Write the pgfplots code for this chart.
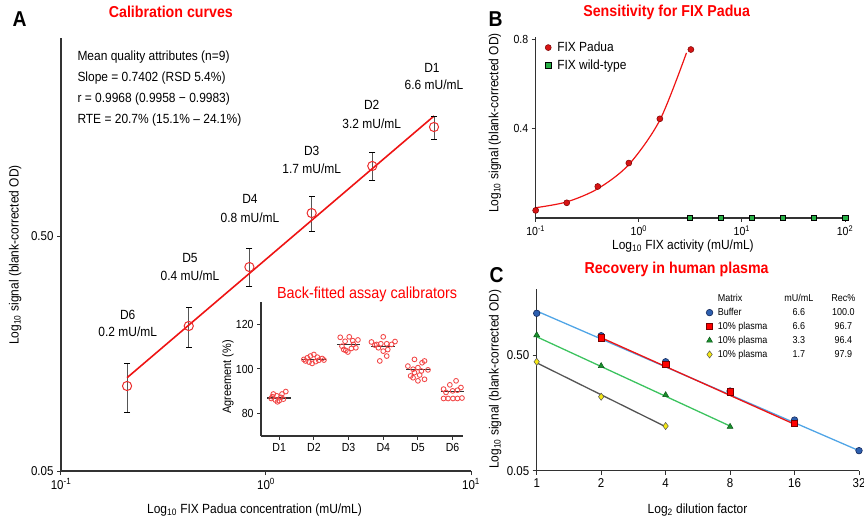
\documentclass[border=0pt]{standalone}
\usepackage{fontspec}
\setmainfont{Liberation Sans}[FakeStretch=0.9]
\usepackage{pgfplots}
\pgfplotsset{compat=1.18}
\definecolor{tred}{RGB}{255,0,0}
\definecolor{axgray}{RGB}{50,50,50}
\definecolor{fitred}{RGB}{238,20,20}
\definecolor{mkred}{RGB}{235,45,45}
\definecolor{insred}{RGB}{242,70,70}
\definecolor{padred}{RGB}{215,20,20}
\definecolor{padedge}{RGB}{120,0,0}
\definecolor{wtgreen}{RGB}{40,175,70}
\definecolor{lblue}{RGB}{80,165,230}
\definecolor{mblue}{RGB}{45,95,175}
\definecolor{dblue}{RGB}{20,40,90}
\definecolor{lgreen}{RGB}{60,195,95}
\definecolor{mgreen}{RGB}{25,145,45}
\definecolor{myellow}{RGB}{245,232,20}
\definecolor{lgray}{RGB}{85,85,85}
\pgfplotsset{
  base/.style={
    scale only axis,
    axis lines=left,
    axis line style={-, axgray, line width=1.3pt},
    tick style={axgray, line width=1pt},
    tick align=outside,
    major tick length=4pt,
    xminorticks=false, yminorticks=false,
    /pgf/number format/assume math mode=true,
    tick label style={font=\fontsize{12.8}{14}\selectfont},
    label style={font=\fontsize{13.3}{15}\selectfont},
    title style={font=\fontsize{15.8}{18}\selectfont\bfseries, text=tred, anchor=center},
    clip=false,
    legend image code/.code={\draw[##1, only marks] plot coordinates {(0.12cm,0cm)};},
  }
}
\begin{document}
\begin{tikzpicture}
\useasboundingbox (0,0) rectangle (864pt,521pt);
% ---------------- Panel A ----------------
\begin{axis}[base,
  at={(61pt,50pt)}, anchor=south west,
  width=410pt, height=433pt,
  xmode=log, ymode=log,
  xmin=0.1, xmax=10, ymin=0.05, ymax=3.48,
  xtick={0.1,1,10}, xticklabels={10\textsuperscript{-1},10\textsuperscript{0},10\textsuperscript{1}},
  ytick={0.05,0.5}, yticklabels={0.05,0.50},
  xlabel={Log\textsubscript{10} FIX Padua concentration (mU/mL)},
  ylabel={Log\textsubscript{10} signal (blank-corrected OD)},
  xlabel style={at={(axis description cs:0.472,-0.090)}, anchor=center},
  ylabel style={at={(axis description cs:-0.112,0.499)}, anchor=center},
  title={Calibration curves},
  title style={at={(axis description cs:0.268,1.046)}},
]
% error bars
\addplot[lgray, line width=0.8pt, mark=-, mark size=3pt, mark options={black, line width=1pt}] coordinates {(0.21,0.089) (0.21,0.144)};
\addplot[lgray, line width=0.8pt, mark=-, mark size=3pt, mark options={black, line width=1pt}] coordinates {(0.42,0.167) (0.42,0.247)};
\addplot[lgray, line width=0.8pt, mark=-, mark size=3pt, mark options={black, line width=1pt}] coordinates {(0.83,0.306) (0.83,0.444)};
\addplot[lgray, line width=0.8pt, mark=-, mark size=3pt, mark options={black, line width=1pt}] coordinates {(1.67,0.525) (1.67,0.733)};
\addplot[lgray, line width=0.8pt, mark=-, mark size=3pt, mark options={black, line width=1pt}] coordinates {(3.3,0.865) (3.3,1.138)};
\addplot[lgray, line width=0.8pt, mark=-, mark size=3pt, mark options={black, line width=1pt}] coordinates {(6.6,1.29) (6.6,1.62)};
% fit line
\addplot[fitred, line width=1.6pt] coordinates {(0.21,0.1247) (6.6,1.62)};
% means
\addplot[only marks, mark=o, mark size=4.6pt, mark options={mkred, line width=1pt}] coordinates {
(0.21,0.115) (0.42,0.207) (0.83,0.369) (1.67,0.626) (3.3,0.993) (6.6,1.455)};
\end{axis}
% annotations A
\begin{scope}[every node/.style={font=\fontsize{13.3}{15}\selectfont, inner sep=0pt}]
\node[anchor=west] at (77.3pt,463.7pt) {Mean quality attributes (n=9)};
\node[anchor=west] at (77.3pt,442.7pt) {Slope = 0.7402 (RSD 5.4\%)};
\node[anchor=west] at (77.3pt,422pt) {r = 0.9968 (0.9958 − 0.9983)};
\node[anchor=west] at (77.3pt,401pt) {RTE = 20.7\% (15.1\% – 24.1\%)};
\node at (432pt,452.7pt) {D1};
\node at (434pt,436pt) {6.6 mU/mL};
\node at (371.7pt,416pt) {D2};
\node at (371.7pt,397.7pt) {3.2 mU/mL};
\node at (311.7pt,370.3pt) {D3};
\node at (311.7pt,352.7pt) {1.7 mU/mL};
\node at (250pt,321.7pt) {D4};
\node at (250pt,303.7pt) {0.8 mU/mL};
\node at (190pt,262.7pt) {D5};
\node at (190pt,245pt) {0.4 mU/mL};
\node at (127.7pt,206pt) {D6};
\node at (127.7pt,189.3pt) {0.2 mU/mL};
\end{scope}
\node[font=\fontsize{21.5}{24}\selectfont\bfseries] at (19.5pt,501.5pt) {A};
\node[font=\fontsize{21.5}{24}\selectfont\bfseries] at (495.5pt,501.5pt) {B};
\node[font=\fontsize{21.5}{24}\selectfont\bfseries] at (496.5pt,246pt) {C};
% ---------------- Inset ----------------
\begin{axis}[base,
  at={(261pt,85pt)}, anchor=south west,
  width=202pt, height=134pt,
  xmin=0.475, xmax=6.3, ymin=70, ymax=130,
  xtick={1,2,3,4,5,6}, xticklabels={D1,D2,D3,D4,D5,D6},
  ytick={80,100,120},
  tick label style={font=\fontsize{11.7}{13}\selectfont},
  ylabel={Agreement (\%)},
  ylabel style={at={(axis description cs:-0.163,0.44)}, anchor=center, font=\fontsize{12.2}{14}\selectfont},
  title={Back-fitted assay calibrators},
  title style={at={(axis description cs:0.525,1.015)}, font=\fontsize{16}{18}\selectfont},
]
\addplot[only marks, mark=o, mark size=2.4pt, mark options={insred, line width=0.85pt}] coordinates {
(0.83,88.8) (0.93,88.0) (1.08,88.8) (1.19,89.9) (0.77,86.8) (0.89,86.1) (1.00,85.8) (1.12,86.5) (0.80,87.6) (1.05,87.3) (0.95,85.3)
(1.71,104.3) (1.81,105.0) (1.90,105.8) (2.00,106.5) (2.10,105.3) (2.24,104.7) (1.86,103.1) (1.95,102.5) (2.05,103.3) (2.14,103.9) (1.76,103.6) (2.29,104.0)
(2.76,114.2) (2.90,112.4) (3.02,114.4) (3.12,112.7) (3.27,113.0) (2.81,110.2) (2.92,108.3) (2.98,107.6) (3.08,109.2) (3.21,109.5) (2.86,108.7) (3.14,111.0)
(3.66,112.1) (3.81,111.0) (3.93,111.3) (4.00,114.4) (4.10,111.3) (4.24,111.0) (4.34,112.3) (3.86,109.5) (4.00,108.0) (4.13,108.7) (4.10,105.8) (3.90,103.6) (3.76,110.7)
(4.90,104.3) (5.12,102.8) (5.19,103.6) (4.71,101.3) (4.86,99.9) (5.00,100.6) (5.29,99.6) (4.79,96.9) (4.90,98.4) (5.05,97.3) (5.19,95.4) (5.00,94.7) (4.86,96.1) (5.10,99.1)
(5.74,91.0) (5.92,92.9) (6.10,94.7) (6.24,91.7) (5.81,89.5) (6.00,90.2) (6.14,90.5) (5.74,86.8) (5.87,86.8) (6.01,86.8) (6.14,86.8) (6.27,87.0)};
\addplot[black!80, line width=1.1pt, unbounded coords=jump] coordinates {
(0.66,87.0) (1.34,87.0) (nan,nan)
(1.66,104.1) (2.34,104.1) (nan,nan)
(2.66,111.0) (3.34,111.0) (nan,nan)
(3.66,109.9) (4.34,109.9) (nan,nan)
(4.66,99.6) (5.34,99.6) (nan,nan)
(5.66,89.9) (6.34,89.9)};
\end{axis}
% ---------------- Panel B ----------------
\begin{axis}[base,
  at={(535.7pt,303pt)}, anchor=south west,
  width=309.3pt, height=181pt,
  xmode=log, xmin=0.1, xmax=100, ymin=0, ymax=0.81,
  xtick={0.1,1,10,100}, xticklabels={10\textsuperscript{-1},10\textsuperscript{0},10\textsuperscript{1},10\textsuperscript{2}},
  ytick={0.4,0.8}, yticklabels={0.4,0.8},
  tick label style={font=\fontsize{11.7}{13}\selectfont},
  xlabel={Log\textsubscript{10} FIX activity (mU/mL)},
  ylabel={Log\textsubscript{10} signal (blank-corrected OD)},
  xlabel style={at={(axis description cs:0.476,-0.155)}, anchor=center},
  ylabel style={at={(axis description cs:-0.132,0.525)}, anchor=center},
  title={Sensitivity for FIX Padua},
  title style={at={(axis description cs:0.4236,1.105)}},
  legend style={at={(axis description cs:0.027,0.99)}, anchor=north west, draw=none, fill=none,
    font=\fontsize{13.3}{15}\selectfont, row sep=2.5pt, inner sep=1pt,
    /tikz/every odd column/.append style={column sep=4pt}},
  legend cell align=left,
]
\addplot[fitred, line width=1.2pt, smooth, forget plot] coordinates {
(0.1,0.046) (0.2,0.072) (0.4,0.131) (0.8,0.239) (1.6,0.438) (2.9,0.739)};
\addplot[only marks, mark=*, mark size=3pt, mark options={fill=padred, draw=padedge, line width=0.5pt}] coordinates {
(0.1,0.034) (0.2,0.068) (0.4,0.141) (0.8,0.246) (1.6,0.444) (3.2,0.754)};
\addlegendentry{FIX Padua}
\addplot[only marks, mark=square*, mark size=2.8pt, mark options={fill=wtgreen, draw=black, line width=0.6pt}] coordinates {
(3.125,0) (6.25,0) (12.5,0) (25,0) (50,0) (100,0)};
\addlegendentry{FIX wild-type}
\end{axis}
% ---------------- Panel C ----------------
\begin{axis}[base,
  at={(536.7pt,50.3pt)}, anchor=south west,
  width=322.3pt, height=181.4pt,
  xmode=log, log basis x=2, ymode=log,
  xmin=1, xmax=32, ymin=0.05, ymax=1.85,
  xtick={1,2,4,8,16,32}, xticklabels={1,2,4,8,16,32},
  ytick={0.05,0.5}, yticklabels={0.05,0.50},
  xlabel={Log\textsubscript{2} dilution factor},
  ylabel={Log\textsubscript{10} signal (blank-corrected OD)},
  xlabel style={at={(axis description cs:0.499,-0.217)}, anchor=center},
  ylabel style={at={(axis description cs:-0.129,0.505)}, anchor=center},
  title={Recovery in human plasma},
  title style={at={(axis description cs:0.434,1.079)}},
  legend style={at={(axis description cs:0.522,0.99)}, anchor=north west, draw=none, fill=none,
    font=\fontsize{10}{11.5}\selectfont, row sep=1.2pt, inner sep=1pt,
    /tikz/every odd column/.append style={column sep=3pt}},
  legend cell align=left,
]
\addplot[lblue, line width=1.3pt, forget plot] coordinates {(1,1.20) (32,0.0745)};
\addplot[fitred, line width=1.3pt, forget plot] coordinates {(2,0.706) (16,0.126)};
\addplot[lgreen, line width=1.3pt, forget plot] coordinates {(1,0.719) (8,0.1216)};
\addplot[lgray, line width=1.3pt, forget plot] coordinates {(1,0.428) (4,0.120)};
\addlegendimage{empty legend}
\addlegendentry{\makebox[60pt][l]{Matrix}\makebox[42pt]{mU/mL}\makebox[47pt]{Rec\%}}
\addplot[only marks, mark=*, mark size=3.3pt, mark options={fill=mblue, draw=dblue, line width=0.6pt}] coordinates {
(1,1.147) (2,0.734) (4,0.437) (8,0.244) (16,0.137) (32,0.0745)};
\addlegendentry{\makebox[60pt][l]{Buffer}\makebox[42pt]{6.6}\makebox[47pt]{100.0}}
\addplot[only marks, mark=square*, mark size=3.2pt, mark options={fill=red, draw=padedge, line width=0.6pt}] coordinates {
(2,0.706) (4,0.416) (8,0.241) (16,0.1284)};
\addlegendentry{\makebox[60pt][l]{10\% plasma}\makebox[42pt]{6.6}\makebox[47pt]{96.7}}
\addplot[only marks, mark=triangle*, mark size=3.4pt, mark options={fill=mgreen, draw=mgreen!60!black, line width=0.5pt}] coordinates {
(1,0.744) (2,0.402) (4,0.2256) (8,0.120)};
\addlegendentry{\makebox[60pt][l]{10\% plasma}\makebox[42pt]{3.3}\makebox[47pt]{96.4}}
\addplot[only marks, mark=diamond*, mark size=3.6pt, mark options={fill=myellow, draw=lgray, line width=0.5pt}] coordinates {
(1,0.437) (2,0.218) (4,0.1216)};
\addlegendentry{\makebox[60pt][l]{10\% plasma}\makebox[42pt]{1.7}\makebox[47pt]{97.9}}
\end{axis}
\end{tikzpicture}
\end{document}
